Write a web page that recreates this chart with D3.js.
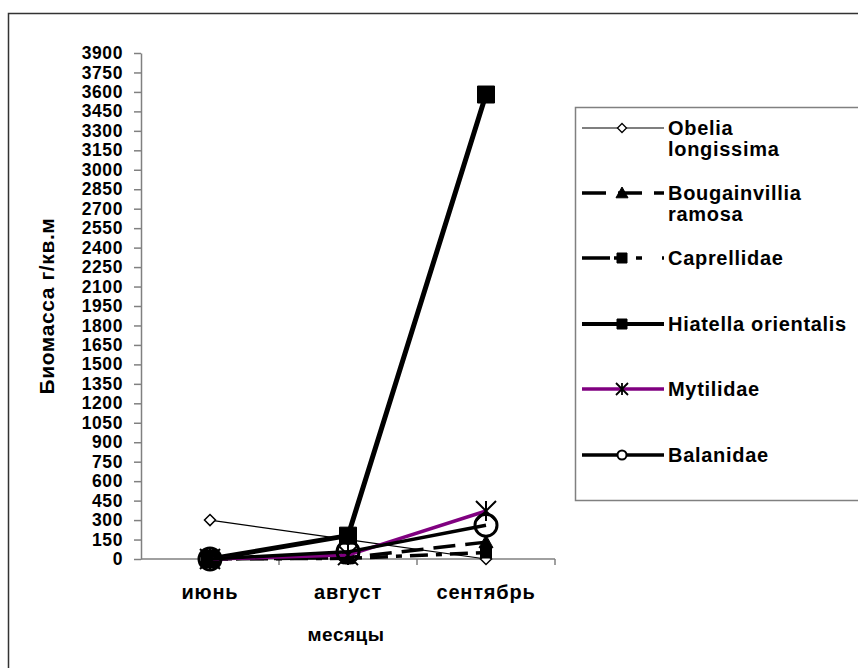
<!DOCTYPE html>
<html>
<head>
<meta charset="utf-8">
<script src="https://cdn.jsdelivr.net/npm/d3@7"></script>
<style>
  html, body { margin: 0; padding: 0; background: #fff; }
  svg { display: block; font-family: "Liberation Sans", Arial, sans-serif; font-weight: bold; }
</style>
</head>
<body>
<svg id="chart" width="858" height="668"></svg>
<script>
// Months on the x axis
const months = ["июнь", "август", "сентябрь"];
// Biomass, g per sq. m, per month
const obelia = [300, 150, 0];
const bougainvillia = [0, 10, 130];
const caprellidae = [0, 5, 50];
const hiatella = [0, 180, 3580];
const mytilidae = [0, 30, 370];
const balanidae = [0, 55, 260];
// Y tick values
const yTicks = d3.range(0, 3901, 150);

const seriesNames = ["Obelia longissima", "Bougainvillia ramosa", "Caprellidae", "Hiatella orientalis", "Mytilidae", "Balanidae"];
const seriesValues = [obelia, bougainvillia, caprellidae, hiatella, mytilidae, balanidae];

const styles = [
  { color: "#000", width: 1.2, dash: null, marker: "diamond", size: 11, fill: "#fff", mstroke: 1.5 },
  { color: "#000", width: 3.5, dash: "22,10", marker: "triangle", size: 14, fill: "#000", mstroke: 1 },
  { color: "#000", width: 3.5, dash: "18,8,6,8", marker: "square", size: 11, fill: "#000", mstroke: 1 },
  { color: "#000", width: 5, dash: null, marker: "square", size: 17, fill: "#000", mstroke: 1 },
  { color: "#800080", width: 3.5, dash: null, marker: "star", size: 20, fill: "none", mstroke: 2 },
  { color: "#000", width: 3.5, dash: null, marker: "circle", size: 22, fill: "none", mstroke: 3 }
];
const legendStyles = [
  { size: 9, mstroke: 1.3 },
  { size: 12, mstroke: 1 },
  { size: 10, mstroke: 1 },
  { size: 10, mstroke: 1 },
  { size: 12, mstroke: 1.8 },
  { size: 9, mstroke: 2 }
];

const svg = d3.select("#chart");

// Outer frame
svg.append("rect")
  .attr("x", 8.5).attr("y", 13.5).attr("width", 900).attr("height", 700)
  .attr("fill", "none").attr("stroke", "#333").attr("stroke-width", 1.5);

const plot = { left: 141, right: 555, top: 53, bottom: 559 };

const x = d3.scaleBand().domain(months).range([plot.left, plot.right]);
const y = d3.scaleLinear().domain([0, 3900]).range([plot.bottom, plot.top]);

// Y axis
const yAxis = svg.append("g")
  .attr("transform", `translate(${plot.left},0)`)
  .call(d3.axisLeft(y).tickValues(yTicks).tickFormat(d3.format("d"))
    .tickSize(7).tickSizeOuter(0).tickPadding(11));
yAxis.select(".domain").attr("stroke", "#808080").attr("stroke-width", 1.5);
yAxis.selectAll(".tick line").attr("stroke", "#808080").attr("stroke-width", 1.5);
yAxis.selectAll(".tick text")
  .attr("font-family", "Liberation Sans, Arial, sans-serif")
  .attr("font-weight", "bold").attr("font-size", 17.5).attr("letter-spacing", 0.6)
  .attr("fill", "#000");

// X axis with ticks between categories
const xAxisG = svg.append("g").attr("transform", `translate(0,${plot.bottom})`);
xAxisG.append("line")
  .attr("x1", plot.left).attr("x2", plot.right)
  .attr("stroke", "#808080").attr("stroke-width", 1.5);
xAxisG.selectAll("line.tk")
  .data(months)
  .enter().append("line").attr("class", "tk")
  .attr("x1", d => x(d) + x.bandwidth()).attr("x2", d => x(d) + x.bandwidth())
  .attr("y1", 0).attr("y2", 6)
  .attr("stroke", "#808080").attr("stroke-width", 1.5);
xAxisG.selectAll("text")
  .data(months)
  .enter().append("text")
  .attr("x", d => x(d) + x.bandwidth() / 2)
  .attr("y", 40)
  .attr("text-anchor", "middle")
  .attr("font-size", 20)
  .attr("letter-spacing", 0.8)
  .text(d => d);

// Axis titles
svg.append("text")
  .attr("transform", `translate(54,${(plot.top + plot.bottom) / 2}) rotate(-90)`)
  .attr("text-anchor", "middle")
  .attr("font-size", 21)
  .attr("letter-spacing", 0.6)
  .text("Биомасса г/кв.м");
svg.append("text")
  .attr("x", 346).attr("y", 641)
  .attr("text-anchor", "middle")
  .attr("font-size", 19)
  .attr("letter-spacing", 0.5)
  .text("месяцы");

function markerPath(type, size) {
  const h = size / 2;
  switch (type) {
    case "diamond": return `M0,${-h}L${h},0L0,${h}L${-h},0Z`;
    case "triangle": return `M0,${-h}L${h},${h * 0.8}L${-h},${h * 0.8}Z`;
    case "square": return `M${-h},${-h}H${h}V${h}H${-h}Z`;
    case "star": return `M${-h},${-h}L${h},${h}M${-h},${h}L${h},${-h}M0,${-h}V${h}`;
    case "circle": return `M${-h},0A${h},${h} 0 1,0 ${h},0A${h},${h} 0 1,0 ${-h},0Z`;
  }
}

const line = d3.line()
  .x((d, i) => x(months[i]) + x.bandwidth() / 2)
  .y(d => y(d));

// Series lines and markers
seriesValues.forEach((vals, k) => {
  const s = styles[k];
  const g = svg.append("g");
  g.append("path")
    .datum(vals)
    .attr("d", line)
    .attr("fill", "none")
    .attr("stroke", s.color)
    .attr("stroke-width", s.width)
    .attr("stroke-dasharray", s.dash)
    .attr("stroke-linejoin", "round");
  g.selectAll("path.m")
    .data(vals)
    .enter().append("path").attr("class", "m")
    .attr("transform", (d, i) => `translate(${x(months[i]) + x.bandwidth() / 2},${y(d)})`)
    .attr("d", markerPath(s.marker, s.size))
    .attr("fill", s.fill)
    .attr("stroke", "#000")
    .attr("stroke-width", s.mstroke);
});

// Legend
const legend = svg.append("g");
legend.append("rect")
  .attr("x", 575.5).attr("y", 107.5).attr("width", 400).attr("height", 393)
  .attr("fill", "#fff").attr("stroke", "#808080").attr("stroke-width", 1.5);

const legendLabels = [["Obelia", "longissima"], ["Bougainvillia", "ramosa"], ["Caprellidae"], ["Hiatella orientalis"], ["Mytilidae"], ["Balanidae"]];
const legendY = [128, 193, 258, 324, 389, 455];
legendLabels.forEach((lines, k) => {
  const s = styles[k];
  const ls = legendStyles[k];
  const cy = legendY[k];
  legend.append("line")
    .attr("x1", 582).attr("x2", 664).attr("y1", cy).attr("y2", cy)
    .attr("stroke", s.color).attr("stroke-width", Math.min(s.width, 4))
    .attr("stroke-dasharray", k === 1 ? "24,12" : (k === 2 ? "28,4,12,10,6,20" : null));
  legend.append("path")
    .attr("transform", `translate(622,${cy})`)
    .attr("d", markerPath(s.marker, ls.size))
    .attr("fill", s.fill === "none" && s.marker === "circle" ? "#fff" : s.fill)
    .attr("stroke", "#000")
    .attr("stroke-width", ls.mstroke);
  const t = legend.append("text")
    .attr("x", 668).attr("y", cy + 7)
    .attr("font-size", 20)
    .attr("letter-spacing", 0.7);
  lines.forEach((ln, j) => {
    t.append("tspan").attr("x", 668).attr("dy", j === 0 ? 0 : 21).text(ln);
  });
});
</script>
</body>
</html>
